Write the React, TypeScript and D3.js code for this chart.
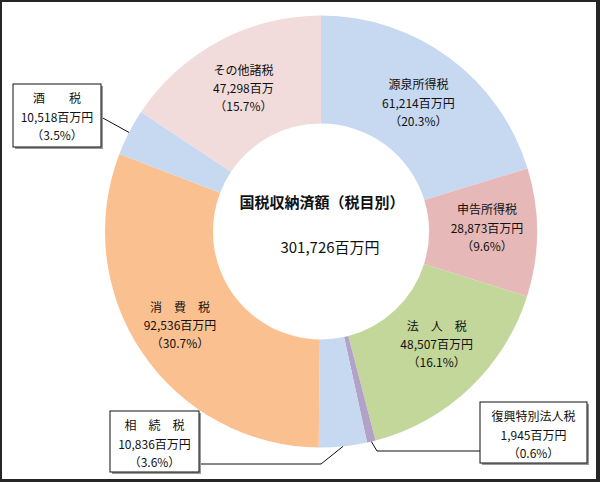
import React, { useEffect } from "react";
import * as d3 from "d3";

const categories = ["源泉所得税", "申告所得税", "法　人　税", "復興特別法人税", "相　続　税", "消　費　税", "酒　　税", "その他諸税"];
const values = [61214, 28873, 48507, 1945, 10836, 92536, 10518, 47298];
const amountLabels = ["61,214百万円", "28,873百万円", "48,507百万円", "1,945百万円", "10,836百万円", "92,536百万円", "10,518百万円", "47,298百万"];
const pctLabels = ["（20.3%）", "（9.6%）", "（16.1%）", "（0.6%）", "（3.6%）", "（30.7%）", "（3.5%）", "（15.7%）"];
const colors = ["#c6d9f1", "#e6b9b8", "#c4d79b", "#b3a2c7", "#c6d9f1", "#fac090", "#c6d9f1", "#f2dcdb"];
const titleText = "国税収納済額（税目別）";
const totalText = "301,726百万円";

const W = 600, H = 482;
const cx = 321, cy = 231.5, rOuter = 216, rInner = 108;
const FONT = "'Noto Sans CJK JP', 'Noto Sans', sans-serif";

// small nudges of in-ring labels from their centroid: [dx, dy] per slice
const labelNudge: [number, number][] = [[1, 2], [4, -4], [4, -4], [0, 0], [0, 0], [-7, 3], [0, 0], [-1, 0]];

// callout boxes for small slices: [index, boxX, boxY, boxW, boxH, elbowX, elbowY]
const callouts: [number, number, number, number, number, number, number][] = [
  [6, 13, 84, 88, 63, 101, 117],
  [4, 110, 411, 89, 61, 321, 464],
  [3, 480, 402, 107, 61, 377, 451],
];

export default function App() {
  useEffect(() => {
    document.body.style.margin = "0";
  }, []);

  const pie = d3.pie<number>().sort(null).value((d) => d)(values);
  const arc = d3.arc<d3.PieArcDatum<number>>().innerRadius(rInner).outerRadius(rOuter);
  const labelArc = d3.arc<d3.PieArcDatum<number>>().innerRadius(162).outerRadius(162);
  const edgeArc = d3.arc<d3.PieArcDatum<number>>().innerRadius(rOuter).outerRadius(rOuter);
  const calloutIdx = new Set(callouts.map((c) => c[0]));

  return (
    <svg width={W} height={H} style={{ display: "block", position: "absolute", left: 0, top: 0 }} fontFamily={FONT}>
      <rect x={0} y={0} width={W} height={H} fill="#262626" />
      <rect x={2} y={2} width={594} height={477} fill="#ffffff" />
      <g transform={`translate(${cx},${cy})`}>
        {pie.map((p, i) => (
          <path key={i} d={arc(p) || ""} fill={colors[i]} />
        ))}
        {pie.map((p, i) => {
          if (calloutIdx.has(i)) return null;
          const [x0, y0] = labelArc.centroid(p);
          const x = x0 + labelNudge[i][0];
          const y = y0 + labelNudge[i][1];
          return (
            <text key={"l" + i} x={x} y={y} textAnchor="middle" fontSize={12} fill="#111">
              <tspan x={x} dy={-14}>{categories[i]}</tspan>
              <tspan x={x} dy={18.5}>{amountLabels[i]}</tspan>
              <tspan x={x} dy={18}>{pctLabels[i]}</tspan>
            </text>
          );
        })}
      </g>
      {callouts.map(([i, bx, by, bw, bh, ex, ey]) => {
        const [px, py] = edgeArc.centroid(pie[i]);
        const tx = bx + bw / 2;
        const lineStartX = bx < cx ? bx + bw : bx;
        const pts: [number, number][] = [
          [lineStartX, ey],
          [ex, ey],
          [px + cx, py + cy],
        ];
        return (
          <g key={"c" + i}>
            <path d={d3.line()(pts) || ""} fill="none" stroke="#111" strokeWidth={1} />
            <rect x={bx + 2} y={by + 2} width={bw} height={bh} fill="#9a9a9a" />
            <rect x={bx} y={by} width={bw} height={bh} fill="#fff" stroke="#111" strokeWidth={1} />
            <text x={tx} y={by} textAnchor="middle" fontSize={12} fill="#111">
              <tspan x={tx} dy={19}>{categories[i]}</tspan>
              <tspan x={tx} dy={18.5}>{amountLabels[i]}</tspan>
              <tspan x={tx} dy={18}>{pctLabels[i]}</tspan>
            </text>
          </g>
        );
      })}
      <text x={cx + 1} y={208} textAnchor="middle" fontSize={15} fontWeight="bold" fill="#111">{titleText}</text>
      <text x={cx + 9} y={253} textAnchor="middle" fontSize={15} fill="#111">{totalText}</text>
    </svg>
  );
}
